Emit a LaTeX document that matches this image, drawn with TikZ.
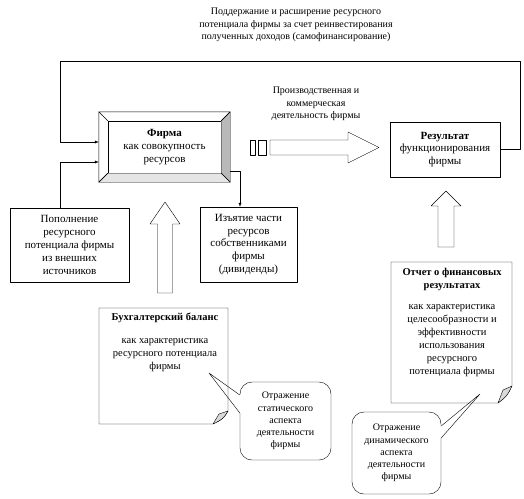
\documentclass[tikz,border=0pt]{standalone}
\usepackage{fontspec}
\setmainfont{Liberation Serif}
\usetikzlibrary{positioning,calc,arrows.meta}

\begin{document}
\begin{tikzpicture}[line cap=round, line join=round, x=1pt, y=-1pt,
    box/.style={draw, fill=white, align=center, inner sep=0pt, font=\fontsize{11}{12.8}\selectfont},
    lbl/.style={align=center, inner sep=2pt, font=\fontsize{10}{12.4}\selectfont},
    notetext/.style={align=center, inner sep=0pt, font=\fontsize{10.5}{13}\selectfont},
    callout/.style={draw, fill=white, rounded corners=12pt, align=center, inner sep=0pt, font=\fontsize{10}{12.2}\selectfont},
    conn/.style={-{Latex[length=4pt,width=3pt]}},
    hollow/.style={draw, fill=white}]

    \useasboundingbox (0,0) rectangle (524,498);

    \node[lbl] (selffin) at (296,25) {Поддержание и расширение ресурсного\\потенциала фирмы за счет реинвестирования\\полученных доходов (самофинансирование)};

    \node[box, minimum width=113pt, minimum height=52pt] (firm) at (164.5,147) {\textbf{Фирма}\\как совокупность\\ресурсов};
    \coordinate (fNW) at ($(firm.north west)+(-9pt,9pt)$);
    \coordinate (fNE) at ($(firm.north east)+(9pt,9pt)$);
    \coordinate (fSE) at ($(firm.south east)+(9pt,-9pt)$);
    \coordinate (fSW) at ($(firm.south west)+(-9pt,-9pt)$);
    \draw[fill=gray!55] (firm.north east) -- (fNE) -- (fSE) -- (firm.south east) -- cycle;
    \draw[fill=gray!20] (firm.south west) -- (fSW) -- (fSE) -- (firm.south east) -- cycle;
    \draw (firm.north west) -- (fNW) -- (fNE) -- (firm.north east);
    \draw (fNW) -- (fSW) -- (firm.south west);

    \node[box, minimum width=110pt, minimum height=55pt] (res) at (445,149.5) {\textbf{Результат}\\функционирования\\фирмы};
    \node[box, minimum width=119pt, minimum height=74pt] (refill) at (69.5,245) {Пополнение\\ресурсного\\потенциала фирмы\\из внешних\\источников};
    \node[box, minimum width=97pt, minimum height=75pt] (divid) at (248.5,244.5) {Изъятие части\\ресурсов\\собственниками\\фирмы\\(дивиденды)};

    \draw[conn] (res.east) -| (520,61) -| (60,142) -- (fNW |- 0,142);
    \draw[conn] (refill.north -| 60,0) |- (fNW |- 0,162);
    \draw[conn] (fSE |- 0,171) -| (divid.north -| 240,0);

    \node[lbl] (activity) at (316,104) {Производственная и\\коммерческая\\деятельность фирмы};
    \draw[hollow] (250,140) rectangle (255,155);
    \draw[hollow] (258,140) rectangle (266,155);
    \draw[hollow] (270,140) -- (348,140) -- (348,132) -- (379,147.5) -- (348,163) -- (348,155) -- (270,155) -- cycle;

    \draw[hollow] (157.5,293) -- (157.5,224) -- (150,224) -- (165,202) -- (180,224) -- (172.5,224) -- (172.5,293) -- cycle;
    \draw[hollow] (438,247) -- (438,206) -- (431,206) -- (446,191) -- (461,206) -- (454,206) -- (454,247) -- cycle;

    \draw[fill=white] (99,308) -- (228,308) -- (228,411) .. controls (223,419) .. (213,424) -- (99,424) -- cycle;
    \draw[fill=gray!30] (228,411) -- (219,414) -- (213,424) .. controls (223,419) .. (228,411);
    \node[notetext, anchor=north] (balance) at (165,313) {\textbf{Бухгалтерский баланс}\\[10pt]как характеристика\\ресурсного потенциала\\фирмы};

    \draw[fill=white] (391,262) -- (512,262) -- (512,386) .. controls (507,396) .. (498,403) -- (391,403) -- cycle;
    \draw[fill=gray!30] (512,386) -- (503,390) -- (498,403) .. controls (507,396) .. (512,386);
    \node[notetext, anchor=north] (report) at (452,268) {\textbf{Отчет о финансовых}\\\textbf{результатах}\\[8pt]как характеристика\\целесообразности и\\эффективности\\использования\\ресурсного\\потенциала фирмы};

    \node[callout, minimum width=91pt, minimum height=78pt] (static) at (285.5,421) {Отражение\\статического\\аспекта\\деятельности\\фирмы};
    \coordinate (stTip) at (209,373);
    \coordinate (stA) at (static.west |- 0,395);
    \coordinate (stB) at (static.west |- 0,413);
    \fill[white] ($(stA)!3pt!(stTip)$) -- ($(stB)!3pt!(stTip)$) -- ($(stB)+(1pt,0)$) -- ($(stA)+(1pt,0)$) -- cycle;
    \draw (stA) -- (stTip) -- (stB);

    \node[callout, minimum width=89pt, minimum height=82pt] (dynamic) at (396.5,453) {Отражение\\динамического\\аспекта\\деятельности\\фирмы};
    \coordinate (dyTip) at (480,394);
    \coordinate (dyA) at (dynamic.east |- 0,426);
    \coordinate (dyB) at (dynamic.east |- 0,438);
    \fill[white] ($(dyA)!3pt!(dyTip)$) -- ($(dyB)!3pt!(dyTip)$) -- ($(dyB)+(-1pt,0)$) -- ($(dyA)+(-1pt,0)$) -- cycle;
    \draw (dyA) -- (dyTip) -- (dyB);

\end{tikzpicture}
\end{document}
